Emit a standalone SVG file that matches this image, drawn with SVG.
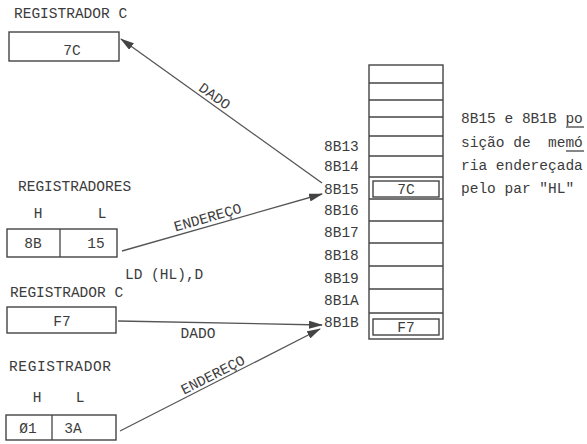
<svg xmlns="http://www.w3.org/2000/svg" width="587" height="444" viewBox="0 0 587 444">
<style>
text{font-family:"Liberation Mono","DejaVu Sans Mono",monospace;font-size:14.5px;fill:#3c3c3c}
.m{text-anchor:middle}
.box{fill:none;stroke:#444;stroke-width:1.4}
.cell{stroke:#444;stroke-width:1.3}
.con{stroke:#555;stroke-width:1.3;fill:none}
</style>
<defs>
<marker id="ah" viewBox="0 0 14 8" refX="13" refY="4" markerWidth="14" markerHeight="8" markerUnits="userSpaceOnUse" orient="auto">
<path d="M0,0 L14,4 L0,8 Z" fill="#444"/>
</marker>
</defs>
<rect width="587" height="444" fill="#fff"/>

<g id="regC1">
<text x="14" y="18">REGISTRADOR C</text>
<rect class="box" x="9" y="32" width="110" height="29"/>
<text class="m" x="72" y="55">7C</text>
</g>

<g id="regHL1">
<text x="18" y="191">REGISTRADORES</text>
<text class="m" x="38" y="218">H</text>
<text class="m" x="102" y="218">L</text>
<rect class="box" x="7" y="229" width="110" height="28"/>
<line class="cell" x1="60" y1="229" x2="60" y2="257"/>
<text class="m" x="33" y="248">8B</text>
<text class="m" x="96" y="248">15</text>
</g>

<g id="instr">
<text x="125" y="279">LD (HL),D</text>
</g>

<g id="regC2">
<text x="10" y="297">REGISTRADOR C</text>
<rect class="box" x="7" y="307" width="109" height="26"/>
<text class="m" x="62" y="326">F7</text>
</g>

<g id="regHL2">
<text x="9" y="371" textLength="102">REGISTRADOR</text>
<text class="m" x="37" y="402">H</text>
<text class="m" x="80" y="402">L</text>
<rect class="box" x="6" y="415" width="110" height="25"/>
<line class="cell" x1="52" y1="415" x2="52" y2="440"/>
<text class="m" x="28" y="433">Ø1</text>
<text class="m" x="73" y="433">3A</text>
</g>

<g id="memory">
<rect class="box" x="369" y="65" width="74" height="274"/>
<line class="cell" x1="369" y1="83" x2="443" y2="83"/>
<line class="cell" x1="369" y1="100" x2="443" y2="100"/>
<line class="cell" x1="369" y1="117" x2="443" y2="117"/>
<line class="cell" x1="369" y1="136" x2="443" y2="136"/>
<line class="cell" x1="369" y1="156" x2="443" y2="156"/>
<line class="cell" x1="369" y1="177" x2="443" y2="177"/>
<line class="cell" x1="369" y1="199" x2="443" y2="199"/>
<line class="cell" x1="369" y1="221" x2="443" y2="221"/>
<line class="cell" x1="369" y1="243" x2="443" y2="243"/>
<line class="cell" x1="369" y1="266" x2="443" y2="266"/>
<line class="cell" x1="369" y1="289" x2="443" y2="289"/>
<line class="cell" x1="369" y1="313" x2="443" y2="313"/>
<rect class="box" x="373" y="181" width="66" height="16"/>
<text class="m" x="406" y="194">7C</text>
<rect class="box" x="373" y="319" width="66" height="16"/>
<text class="m" x="406" y="332">F7</text>
<text x="324" y="151">8B13</text>
<text x="324" y="171">8B14</text>
<text x="324" y="194">8B15</text>
<text x="324" y="215">8B16</text>
<text x="324" y="237">8B17</text>
<text x="324" y="260">8B18</text>
<text x="324" y="283">8B19</text>
<text x="324" y="305">8B1A</text>
<text x="324" y="327">8B1B</text>
</g>

<g id="note">
<text x="461" y="123">8B15 e 8B1B po</text>
<line class="cell" x1="566" y1="127" x2="584" y2="127"/>
<text x="461" y="147" xml:space="preserve">sição de  memó</text>
<line class="cell" x1="566" y1="151" x2="584" y2="151"/>
<text x="461" y="170">ria endereçada</text>
<text x="461" y="193">pelo par "HL"</text>
</g>

<g id="connectors">
<line class="con" x1="322" y1="183" x2="121" y2="39" marker-end="url(#ah)"/>
<text class="m" transform="translate(212,100) rotate(35.6)">DADO</text>
<line class="con" x1="122" y1="251" x2="322" y2="194" marker-end="url(#ah)"/>
<text class="m" transform="translate(209,222) rotate(-16)">ENDEREÇO</text>
<line class="con" x1="118" y1="321" x2="322" y2="325" marker-end="url(#ah)"/>
<text class="m" x="198" y="338">DADO</text>
<line class="con" x1="120" y1="431" x2="320" y2="329" marker-end="url(#ah)"/>
<text class="m" transform="translate(215,379) rotate(-27)">ENDEREÇO</text>
</g>
</svg>
